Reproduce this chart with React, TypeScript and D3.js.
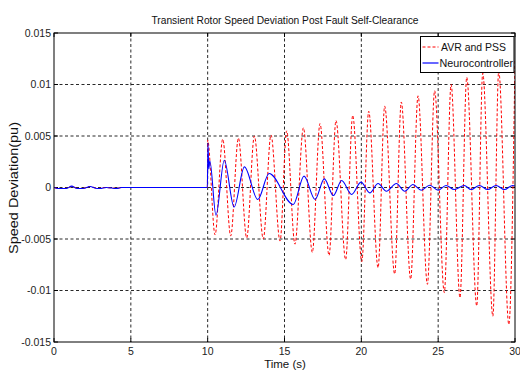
import React from "react";
import * as d3 from "d3";

const xTicks = [0, 5, 10, 15, 20, 25, 30];
const yTicks = [-0.015, -0.01, -0.005, 0, 0.005, 0.01, 0.015];
const yTickLabels = ["-0.015", "-0.01", "-0.005", "0", "0.005", "0.01", "0.015"];

const redTime = [0, 0.3, 0.8, 1.15, 1.6, 2.0, 2.35, 2.85, 3.3, 4.1, 4.4, 9.98, 10.0, 10.48, 10.98, 11.5, 12.0, 12.54, 13.04, 13.62, 14.12, 14.71, 15.14, 15.68, 16.23, 16.81, 17.31, 17.9, 18.35, 18.98, 19.44, 20.03, 20.48, 21.09, 21.52, 22.17, 22.6, 23.21, 23.69, 24.3, 24.77, 25.4, 25.84, 26.42, 26.86, 27.51, 27.9, 28.56, 28.94, 29.6, 30];
const redValue = [0, -0.0001, -0.00008, 0.0001, -0.0001, -0.00005, 0.0001, -0.0001, 0, -0.00008, 0, 0, 0.0046, -0.0046, 0.0047, -0.0047, 0.0048, -0.0049, 0.005, -0.005, 0.0051, -0.0052, 0.0055, -0.0055, 0.0058, -0.0063, 0.0062, -0.0066, 0.0065, -0.007, 0.007, -0.0072, 0.0074, -0.0078, 0.0079, -0.0084, 0.0083, -0.0089, 0.0089, -0.0094, 0.0094, -0.0102, 0.01, -0.0107, 0.0107, -0.0115, 0.0111, -0.0125, 0.0113, -0.0133, 0.0125];

const blueTime = [0, 0.25, 0.8, 1.15, 1.5, 1.9, 2.34, 2.8, 3.0, 3.4, 4.08, 4.4, 9.98, 10.02, 10.07, 10.14, 10.54, 11.08, 11.72, 12.39, 13.26, 14.0, 15.57, 16.27, 16.99, 17.59, 18.18, 18.72, 19.37, 19.98, 20.55, 21.09, 21.63, 22.28, 22.82, 23.36, 23.9, 24.45, 24.99, 25.51, 26.05, 26.7, 27.14, 27.68, 28.22, 28.77, 29.31, 29.85, 30];
const blueValue = [0, -0.0001, -0.0001, 0.00013, -0.0001, -0.0001, 0.0001, -0.0001, -0.0001, 0, -0.0001, 0, 0, 0.0043, 0.0018, 0.0026, -0.0027, 0.00265, -0.0019, 0.002, -0.00117, 0.00136, -0.00165, 0.0011, -0.00117, 0.00084, -0.00078, 0.00068, -0.00068, 0.00052, -0.00052, 0.00039, -0.00036, 0.00039, -0.00036, 0.00029, -0.00026, 0.00022, -0.00026, 0.0002, -0.0002, 0.0002, -0.0002, 0.0002, -0.0002, 0.0002, -0.0002, 0.0002, 0.00015];

const seriesNames = ["AVR and PSS", "Neurocontroller"];

const W = 520, H = 372;
const L = 54, R = 515, T = 33, B = 342;
const FONT = "'Liberation Sans', Arial, sans-serif";

export default function App() {
  const x = d3.scaleLinear().domain([0, 30]).range([L, R]);
  const y = d3.scaleLinear().domain([-0.015, 0.015]).range([B, T]);
  const line = d3
    .line<[number, number]>()
    .x((d) => x(d[0]))
    .y((d) => y(d[1]))
    .curve(d3.curveMonotoneX);
  const red: [number, number][] = redTime.map((t, i) => [t, redValue[i]]);
  const blue: [number, number][] = blueTime.map((t, i) => [t, blueValue[i]]);
  const tk = 4;
  return (
    <svg width={W} height={H} style={{ position: "absolute", left: 0, top: 0, background: "#fff" }} fontFamily={FONT}>
      <rect x={0} y={0} width={W} height={H} fill="#fff" />
      <defs>
        <clipPath id="plot">
          <rect x={L} y={T} width={R - L} height={B - T} />
        </clipPath>
      </defs>
      {xTicks.slice(1, -1).map((t) => (
        <line key={"gx" + t} x1={x(t)} x2={x(t)} y1={T} y2={B} stroke="#111" strokeWidth={0.9} strokeDasharray="3,2.5" />
      ))}
      {yTicks.slice(1, -1).map((t) => (
        <line key={"gy" + t} x1={L} x2={R} y1={y(t)} y2={y(t)} stroke="#111" strokeWidth={0.9} strokeDasharray="3,2.5" />
      ))}
      {xTicks.map((t) => (
        <g key={"tx" + t}>
          <line x1={x(t)} x2={x(t)} y1={B} y2={B - tk} stroke="#000" />
          <line x1={x(t)} x2={x(t)} y1={T} y2={T + tk} stroke="#000" />
          <text x={x(t)} y={355} fontSize={10.5} textAnchor="middle" fill="#222">{t}</text>
        </g>
      ))}
      {yTicks.map((t, i) => (
        <g key={"ty" + t}>
          <line x1={L} x2={L + tk} y1={y(t)} y2={y(t)} stroke="#000" />
          <line x1={R} x2={R - tk} y1={y(t)} y2={y(t)} stroke="#000" />
          <text x={51} y={y(t) + 3.8} fontSize={10.5} textAnchor="end" fill="#222">{yTickLabels[i]}</text>
        </g>
      ))}
      <g clipPath="url(#plot)">
        <path d={line(red) || ""} fill="none" stroke="#ff0000" strokeWidth={1} strokeDasharray="3,2" />
        <path d={line(blue) || ""} fill="none" stroke="#0000ff" strokeWidth={1.1} />
      </g>
      <rect x={L} y={T} width={R - L} height={B - T} fill="none" stroke="#000" strokeWidth={1} />
      <rect x={420.5} y={36.5} width={93.5} height={36} fill="#fff" stroke="#000" strokeWidth={1} />
      <line x1={422.5} x2={438.5} y1={47} y2={47} stroke="#ff0000" strokeWidth={1} strokeDasharray="3,2" />
      <text x={441} y={51} fontSize={11} fill="#111" textLength={65} lengthAdjust="spacingAndGlyphs">{seriesNames[0]}</text>
      <line x1={422.5} x2={438.5} y1={63} y2={63} stroke="#0000ff" strokeWidth={1.2} />
      <text x={439.5} y={67} fontSize={11} fill="#111" textLength={73.5} lengthAdjust="spacingAndGlyphs">{seriesNames[1]}</text>
      <text x={285} y={24} fontSize={10} textAnchor="middle" fill="#111" textLength={267} lengthAdjust="spacingAndGlyphs">
        Transient Rotor Speed Deviation Post Fault Self-Clearance
      </text>
      <text x={285} y={368} fontSize={11.5} textAnchor="middle" fill="#111">Time (s)</text>
      <text transform="translate(18,188) rotate(-90)" fontSize={12} textAnchor="middle" fill="#111" textLength={132} lengthAdjust="spacingAndGlyphs">Speed Deviation(pu)</text>
    </svg>
  );
}
